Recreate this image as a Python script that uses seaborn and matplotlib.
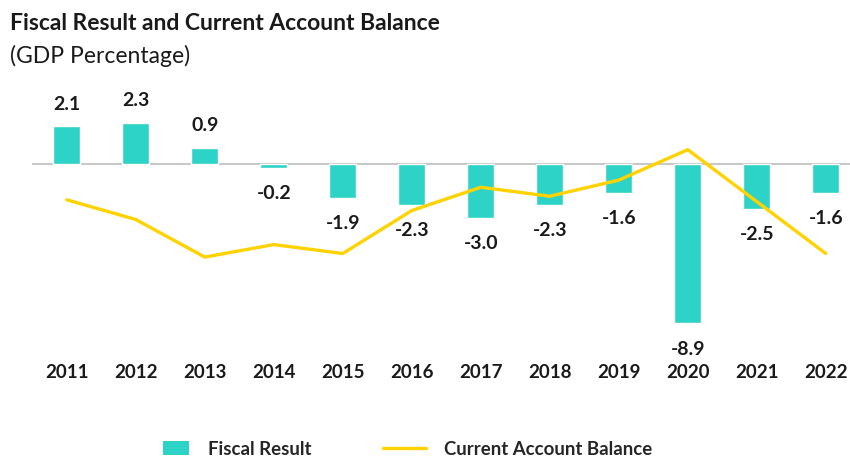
import numpy as np
import pandas as pd
import matplotlib
matplotlib.use("Agg")
import matplotlib.pyplot as plt
import seaborn as sns
from matplotlib.patches import Patch
from matplotlib.lines import Line2D

# Data (% of GDP)
years = ["2011", "2012", "2013", "2014", "2015", "2016",
         "2017", "2018", "2019", "2020", "2021", "2022"]
fiscal_result = [2.1, 2.3, 0.9, -0.2, -1.9, -2.3, -3.0, -2.3, -1.6, -8.9, -2.5, -1.6]
current_account = [-2.0, -3.1, -5.2, -4.5, -5.0, -2.6, -1.3, -1.8, -0.9, 0.8, -2.1, -5.0]

bar_color = "#2ED3C8"
line_color = "#FFD200"
text_color = "#1a1a1a"

sns.set_style("white")
plt.rcParams['font.family'] = ['Lato', 'DejaVu Sans']

df = pd.DataFrame({'Year': years, 'Fiscal': fiscal_result, 'CAB': current_account})
df['pos'] = np.arange(len(df))

fig = plt.figure(figsize=(8.5, 4.61), dpi=100)
ax = fig.add_axes([0.038, 0.2625, 0.97, 0.553])

sns.barplot(data=df, x='Year', y='Fiscal', color=bar_color, width=0.39,
            saturation=1, ax=ax, zorder=2)
sns.lineplot(data=df, x='pos', y='CAB', color=line_color, linewidth=2.4,
             ax=ax, zorder=3)

ax.axhline(0, color='#c8c8c8', linewidth=1.5, zorder=1)
ax.set_xlim(-0.5, 11.45)
ax.set_ylim(-9.83, 4.41)

# value labels above positive bars, below negative ones
for i, v in enumerate(fiscal_result):
    offset = 16 if v >= 0 else -18.5
    ax.annotate(f"{v:.1f}", (i, v), xytext=(0, offset), textcoords='offset points',
                ha='center', va='center', fontsize=14, fontweight='bold',
                color=text_color)

ax.set_yticks([])
ax.set_xlabel('')
ax.set_ylabel('')
ax.tick_params(axis='x', length=0, pad=17, labelsize=13.5)
for lbl in ax.get_xticklabels():
    lbl.set_fontweight('bold')
    lbl.set_color(text_color)
sns.despine(ax=ax, left=True, bottom=True)

fig.text(0.012, 0.95, "Fiscal Result and Current Account Balance", fontsize=16.5,
         fontweight='bold', color=text_color, va='center')
fig.text(0.012, 0.878, "(GDP Percentage)", fontsize=16.5, color=text_color, va='center')

# legend: two separate entries so each handle keeps its own length
leg_font = {'size': 13.4, 'weight': 'bold'}
fig.legend([Patch(facecolor=bar_color, edgecolor='none')], ["Fiscal Result"],
           loc='center left', bbox_to_anchor=(163 / 850, 0.026), frameon=False,
           handlelength=1.4, handletextpad=1.0, borderpad=0, borderaxespad=0,
           prop=leg_font)
fig.legend([Line2D([0], [0], color=line_color, linewidth=2.4)], ["Current Account Balance"],
           loc='center left', bbox_to_anchor=(383 / 850, 0.026), frameon=False,
           handlelength=2.3, handletextpad=1.0, borderpad=0, borderaxespad=0,
           prop=leg_font)

fig.savefig("out.png", dpi=100)
